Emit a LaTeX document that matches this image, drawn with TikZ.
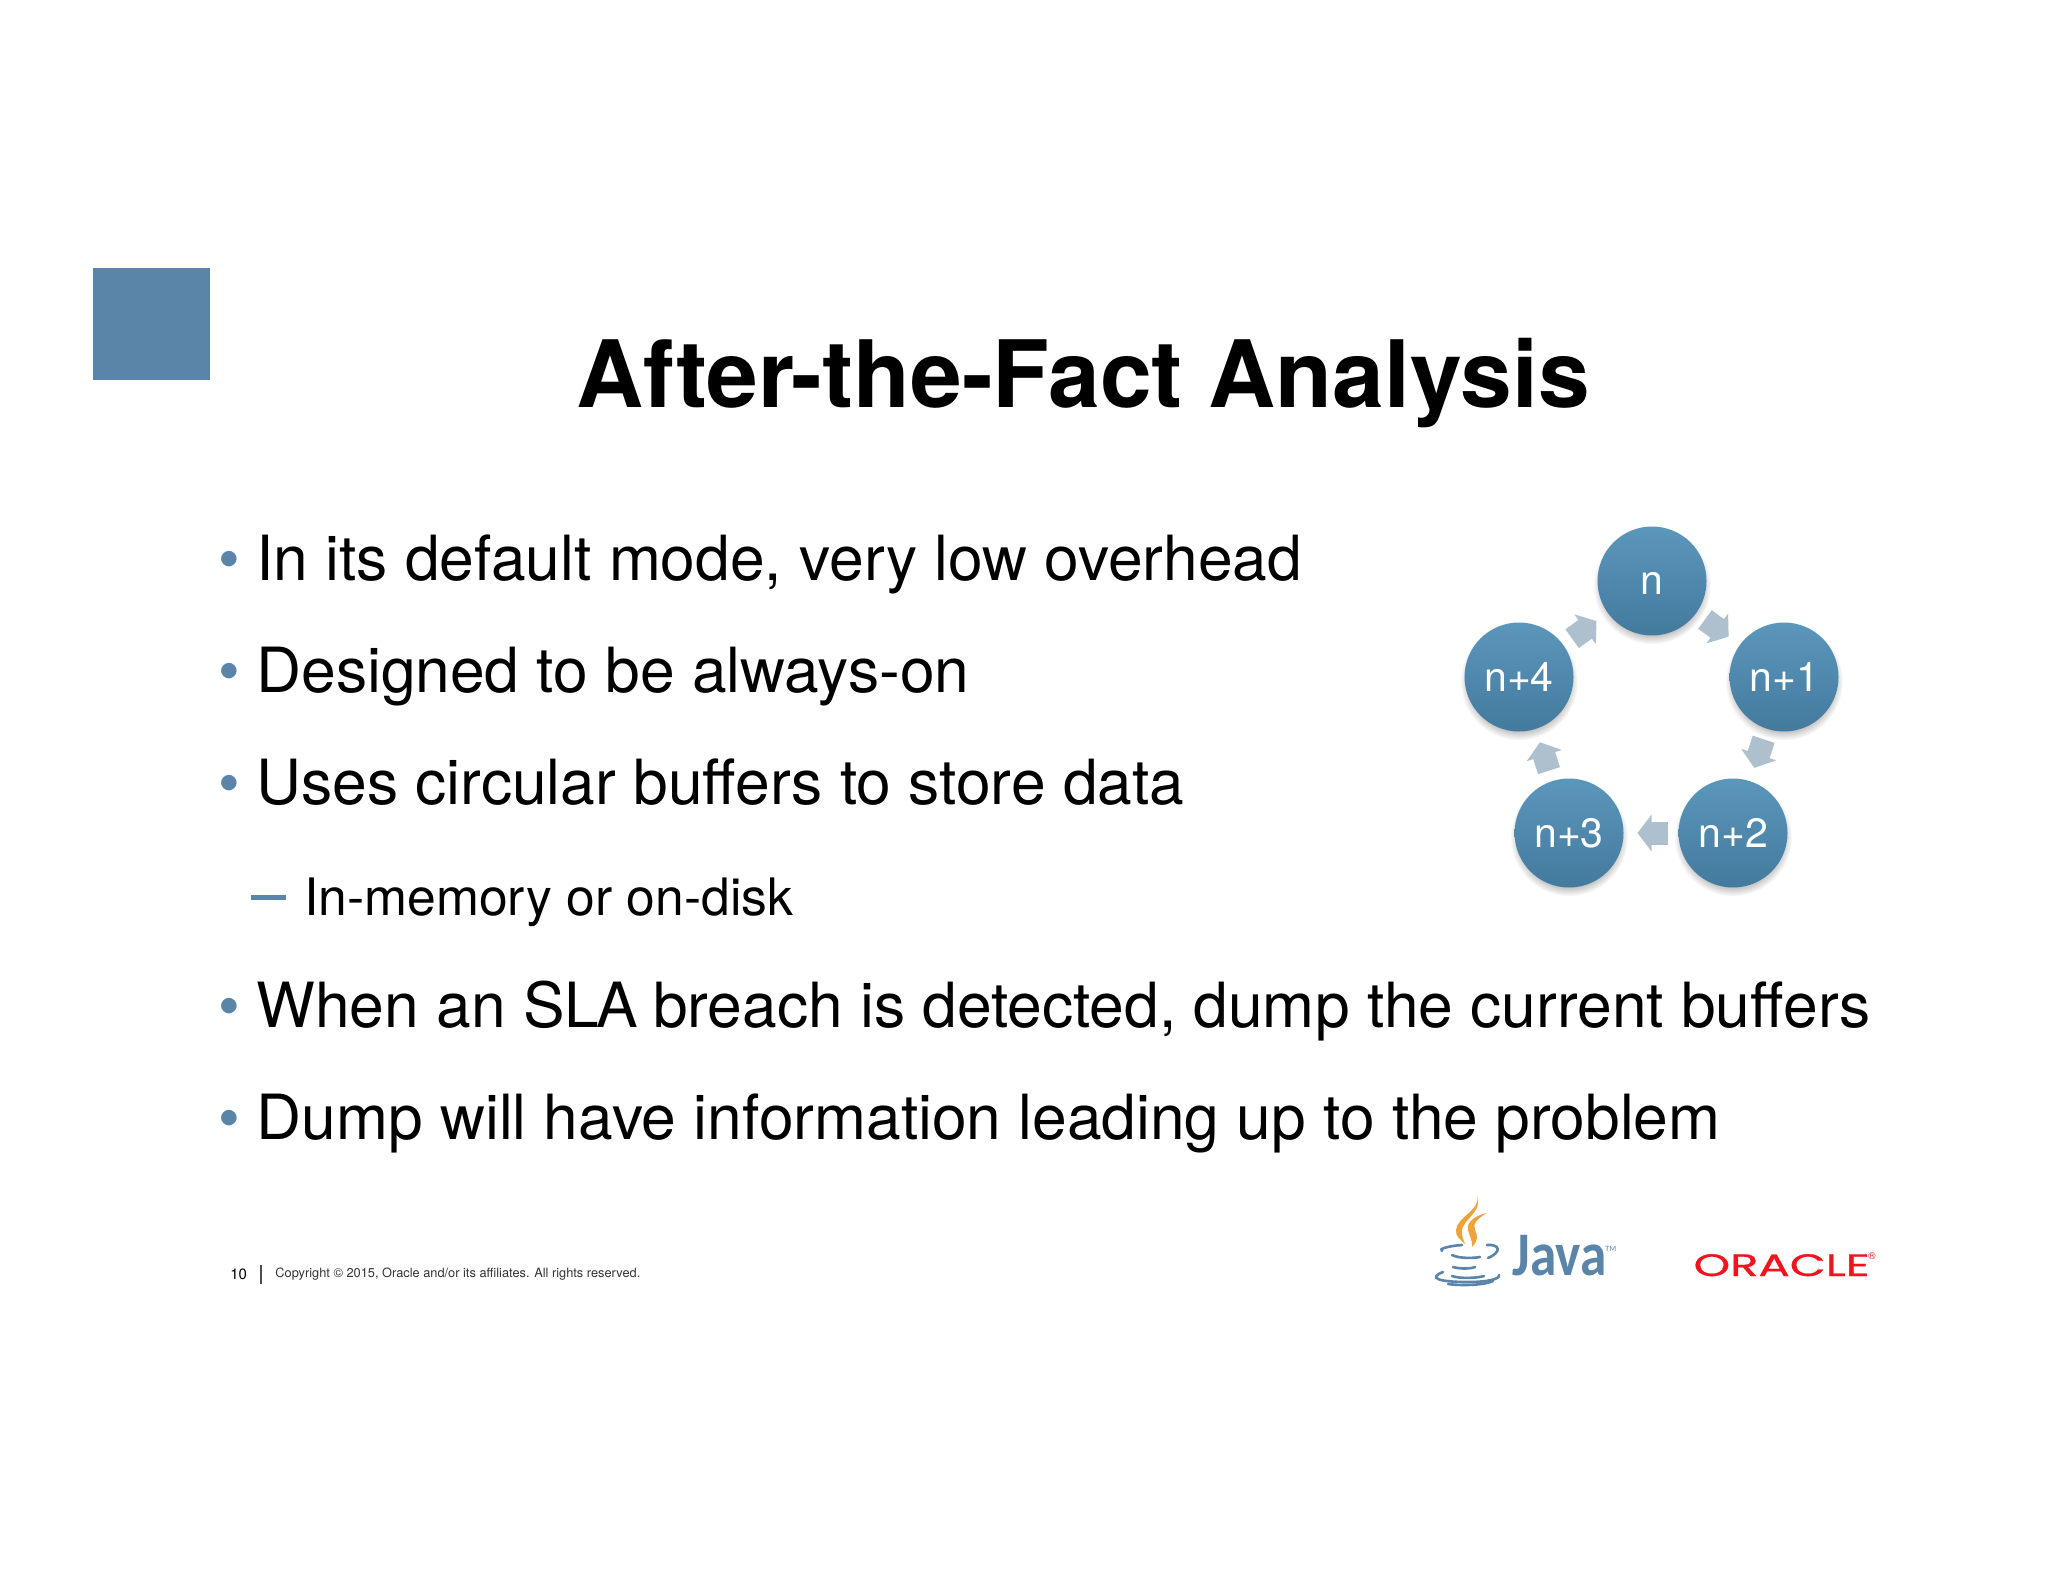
\documentclass[tikz,border=0pt]{standalone}
\usepackage{fontspec}
\usepackage{xcolor}
\setmainfont{TeX Gyre Heros}
\newfontfamily\logofont{Carlito}
\newfontfamily\oraclefont[FakeBold=0.7]{Poppins}
\usetikzlibrary{arrows.meta, positioning, shadows}

\definecolor{slideblue}{HTML}{5A85A8}
\definecolor{circletop}{HTML}{5B97BB}
\definecolor{circlebottom}{HTML}{437A9E}
\definecolor{arrowgray}{HTML}{AEBFCE}
\definecolor{flameorange}{HTML}{EDA33A}
\definecolor{oraclered}{HTML}{F0141E}

\begin{document}
\begin{tikzpicture}[
    x=0.5pt,
    y=-0.5pt,
    titletext/.style={
        anchor=base,
        inner sep=0pt,
        font=\fontsize{46.5}{50}\selectfont\bfseries
    },
    bodytext/.style={
        anchor=base west,
        inner sep=0pt,
        font=\fontsize{31.15}{36}\selectfont
    },
    subtext/.style={
        anchor=base west,
        inner sep=0pt,
        font=\fontsize{25.8}{30}\selectfont
    },
    bulletmark/.style={
        anchor=base,
        inner sep=0pt,
        text=slideblue,
        font=\fontsize{31}{36}\selectfont
    },
    ring/.style={
        circle,
        minimum size=54.5pt,
        inner sep=0pt,
        outer sep=0pt,
        top color=circletop,
        bottom color=circlebottom,
        text=white,
        text height=14pt,
        text depth=0pt,
        font=\fontsize{20.5}{24}\selectfont,
        circular drop shadow={shadow xshift=0pt, shadow yshift=-2pt, shadow scale=1.08, opacity=0.45}
    },
    cyclearrow/.style={
        -{Triangle[length=7pt, width=18pt]},
        line width=11.5pt,
        color=arrowgray,
        shorten <=5.5pt,
        shorten >=7pt
    },
    footertext/.style={
        anchor=base west,
        inner sep=0pt,
        text=black!80,
        font=\fontsize{6.4}{8}\selectfont
    },
    cupline/.style={
        draw=slideblue,
        line width=1.3pt,
        line cap=round
    }
]

\useasboundingbox (0,0) rectangle (2048,1582);
\fill[white] (0,0) rectangle (2048,1582);

% Header
\fill[slideblue] (93,268) rectangle (210,380);
\node[titletext] (title) at (1083,408) {After-the-Fact Analysis};

% Bullets
\node[bulletmark] (dot1) at (229,581) {•};
\node[bodytext] (line1) at (256,581) {In its default mode, very low overhead};
\node[bulletmark] (dot2) at (229,692) {•};
\node[bodytext] (line2) at (256,692) {Designed to be always-on};
\node[bulletmark] (dot3) at (229,804) {•};
\node[bodytext] (line3) at (256,804) {Uses circular buffers to store data};
\fill[slideblue] (251,895) rectangle (286,900);
\node[subtext] (line4) at (304,915) {In-memory or on-disk};
\node[bulletmark] (dot4) at (229,1027) {•};
\node[bodytext] (line5) at (256,1027) {When an SL\kern-1.5pt A\kern-1pt{} breach is detected, dump the current buffers};
\node[bulletmark] (dot5) at (229,1139) {•};
\node[bodytext] (line6) at (256,1139) {Dump will have information leading up to the problem};

% Ring of buffers
\node[ring] (n) at (1652,581) {n};
\node[ring] (n1) at (1784,677) {n+1};
\node[ring] (n2) at (1733,833) {n+2};
\node[ring] (n3) at (1569,833) {n+3};
\node[ring] (n4) at (1519,677) {n+4};

% Arrows
\draw[cyclearrow] (n) -- (n1);
\draw[cyclearrow] (n1) -- (n2);
\draw[cyclearrow] (n2) -- (n3);
\draw[cyclearrow] (n3) -- (n4);
\draw[cyclearrow] (n4) -- (n);

% Footer
\node[footertext, text=black, font=\fontsize{7.5}{8}\selectfont] (pagenum) at (230,1279) {10};
\draw[black!70, line width=0.6pt] (261,1265) -- (261,1284);
\node[footertext] (copyright) at (275,1277) {Copyright © 2015, Oracle and/or its affiliates. All rights reserved.};

% Java logo
\fill[flameorange] (1477,1196) .. controls (1481,1210) and (1457,1217) .. (1456,1230) .. controls (1455,1236) and (1461,1240) .. (1465,1244) .. controls (1462,1236) and (1460,1232) .. (1464,1225) .. controls (1468,1217) and (1482,1210) .. (1477,1196) -- cycle;
\fill[flameorange] (1487,1213) .. controls (1476,1215) and (1466,1222) .. (1468,1230) .. controls (1469,1236) and (1473,1240) .. (1472,1247) .. controls (1478,1241) and (1478,1236) .. (1475,1230) .. controls (1472,1224) and (1478,1218) .. (1487,1213) -- cycle;
\draw[cupline] (1462,1245) .. controls (1448,1246) and (1438,1249) .. (1442,1251);
\draw[cupline] (1487,1245) .. controls (1500,1244) and (1502,1252) .. (1488,1258);
\draw[cupline] (1452,1255) .. controls (1460,1259) and (1475,1258) .. (1480,1257);
\draw[cupline] (1453,1267) .. controls (1460,1269) and (1470,1269) .. (1475,1267);
\draw[cupline] (1452,1276) .. controls (1460,1279) and (1478,1278) .. (1484,1276);
\draw[cupline] (1443,1272) .. controls (1428,1278) and (1438,1282) .. (1468,1282) .. controls (1488,1282) and (1500,1279) .. (1499,1275);
\draw[cupline] (1448,1284) .. controls (1463,1286) and (1485,1285) .. (1493,1281);

\node[anchor=base west, inner sep=0pt, text=slideblue, xscale=0.86, font=\logofont\bfseries\fontsize{31}{34}\selectfont] (java) at (1512,1275) {Java};
\node[anchor=base west, inner sep=0pt, text=slideblue, font=\logofont\fontsize{4}{5}\selectfont] (javatm) at (1605,1251) {TM};

% Oracle logo
\node[anchor=base west, inner sep=0pt, text=oraclered, xscale=1.5, font=\oraclefont\fontsize{15.5}{18}\selectfont] (oracle) at (1693,1276) {ORACLE};
\node[anchor=base west, inner sep=0pt, text=oraclered, font=\fontsize{5}{6}\selectfont] (oraclereg) at (1868,1259) {®};

\end{tikzpicture}
\end{document}
